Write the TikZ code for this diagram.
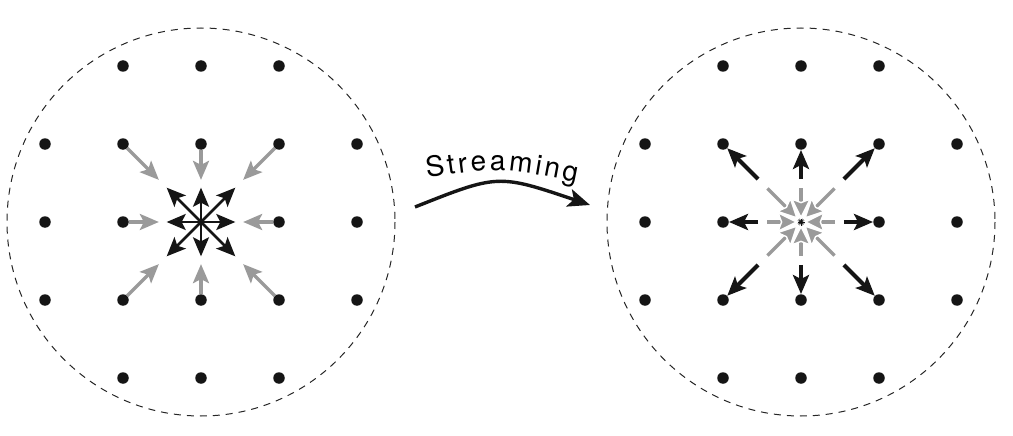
\documentclass[tikz,border=0pt]{standalone}
\usepackage{fontspec}
\newfontfamily\hv{TeX Gyre Heros}
\usetikzlibrary{arrows.meta,decorations.text,calc}
\definecolor{dotc}{HTML}{151515}
\definecolor{gr}{HTML}{9A9A9A}
\begin{document}
\begin{tikzpicture}[x=1pt,y=-1pt,
  dot/.style={circle,fill=dotc,inner sep=0pt,minimum size=11.5pt},
  ring/.style={draw=black!85,dash pattern=on 7pt off 6pt,line width=1pt},
  blkout/.style={draw=dotc,line width=2.6pt,-{Stealth[length=19pt,width=16pt,inset=4pt]}},
  grin/.style={draw=gr,line width=3.2pt,-{Stealth[length=19pt,width=16pt,inset=4pt]}},
  blkstream/.style={draw=dotc,line width=4pt,-{Stealth[length=19pt,width=16pt,inset=4pt]}},
  grcenter/.style={draw=gr,line width=3.4pt,-{Stealth[length=21pt,width=21pt,inset=4pt,color=white,fill=gr,line width=1.4pt]}},
  streamarrow/.style={draw=dotc,line width=3.4pt,-{Stealth[length=22pt,width=18pt,inset=5pt]}}
]
\useasboundingbox (0,0) rectangle (1013,436);

% centres
\coordinate (Lc) at (201,222);
\coordinate (Rc) at (801,222);

% dashed rings
\draw[ring] (Lc) circle[radius=194];
\draw[ring] (Rc) circle[radius=194];

% lattice dots
\foreach \i/\j in {-1/-2,0/-2,1/-2,-2/-1,-1/-1,0/-1,1/-1,2/-1,-2/0,-1/0,1/0,2/0,-2/1,-1/1,0/1,1/1,2/1,-1/2,0/2,1/2}{
  \node[dot] (L\i\j) at ($(Lc)+(78*\i,78*\j)$) {};
  \node[dot] (R\i\j) at ($(Rc)+(78*\i,78*\j)$) {};
}

% left: incoming grey populations, outgoing black
\foreach \i/\j in {-1/-1,0/-1,1/-1,-1/0,1/0,-1/1,0/1,1/1}{
  \draw[grin] (L\i\j) -- ($(Lc)!0.54!(L\i\j.center)$);
  \draw[blkout] (Lc) -- ($(Lc)!0.44!(L\i\j.center)$);
}

% right: streamed black, grey converging
\foreach \i/\j in {-1/-1,0/-1,1/-1,-1/0,1/0,-1/1,0/1,1/1}{
  \draw[blkstream] ($(Rc)!0.55!(R\i\j.center)$) -- (R\i\j);
  \draw[grcenter] ($(Rc)!0.43!(R\i\j.center)$) -- ($(Rc)!0.04!(R\i\j.center)$);
}
\foreach \a in {0,22.5,...,337.5}
  \draw[dotc,line width=0.5pt] (Rc) -- ++(\a:3.5);

% streaming arrow
\coordinate (s1) at (415,207);
\coordinate (s2) at (590,205);
\draw[streamarrow] (s1) .. controls (498,174) .. (s2);
\path[decorate,decoration={text along path,
  text={|\hv\fontsize{28}{32}\selectfont|Streaming},text align={fit to path}}]
  (427,178) .. controls (500,167) .. (577,182);
\end{tikzpicture}
\end{document}
